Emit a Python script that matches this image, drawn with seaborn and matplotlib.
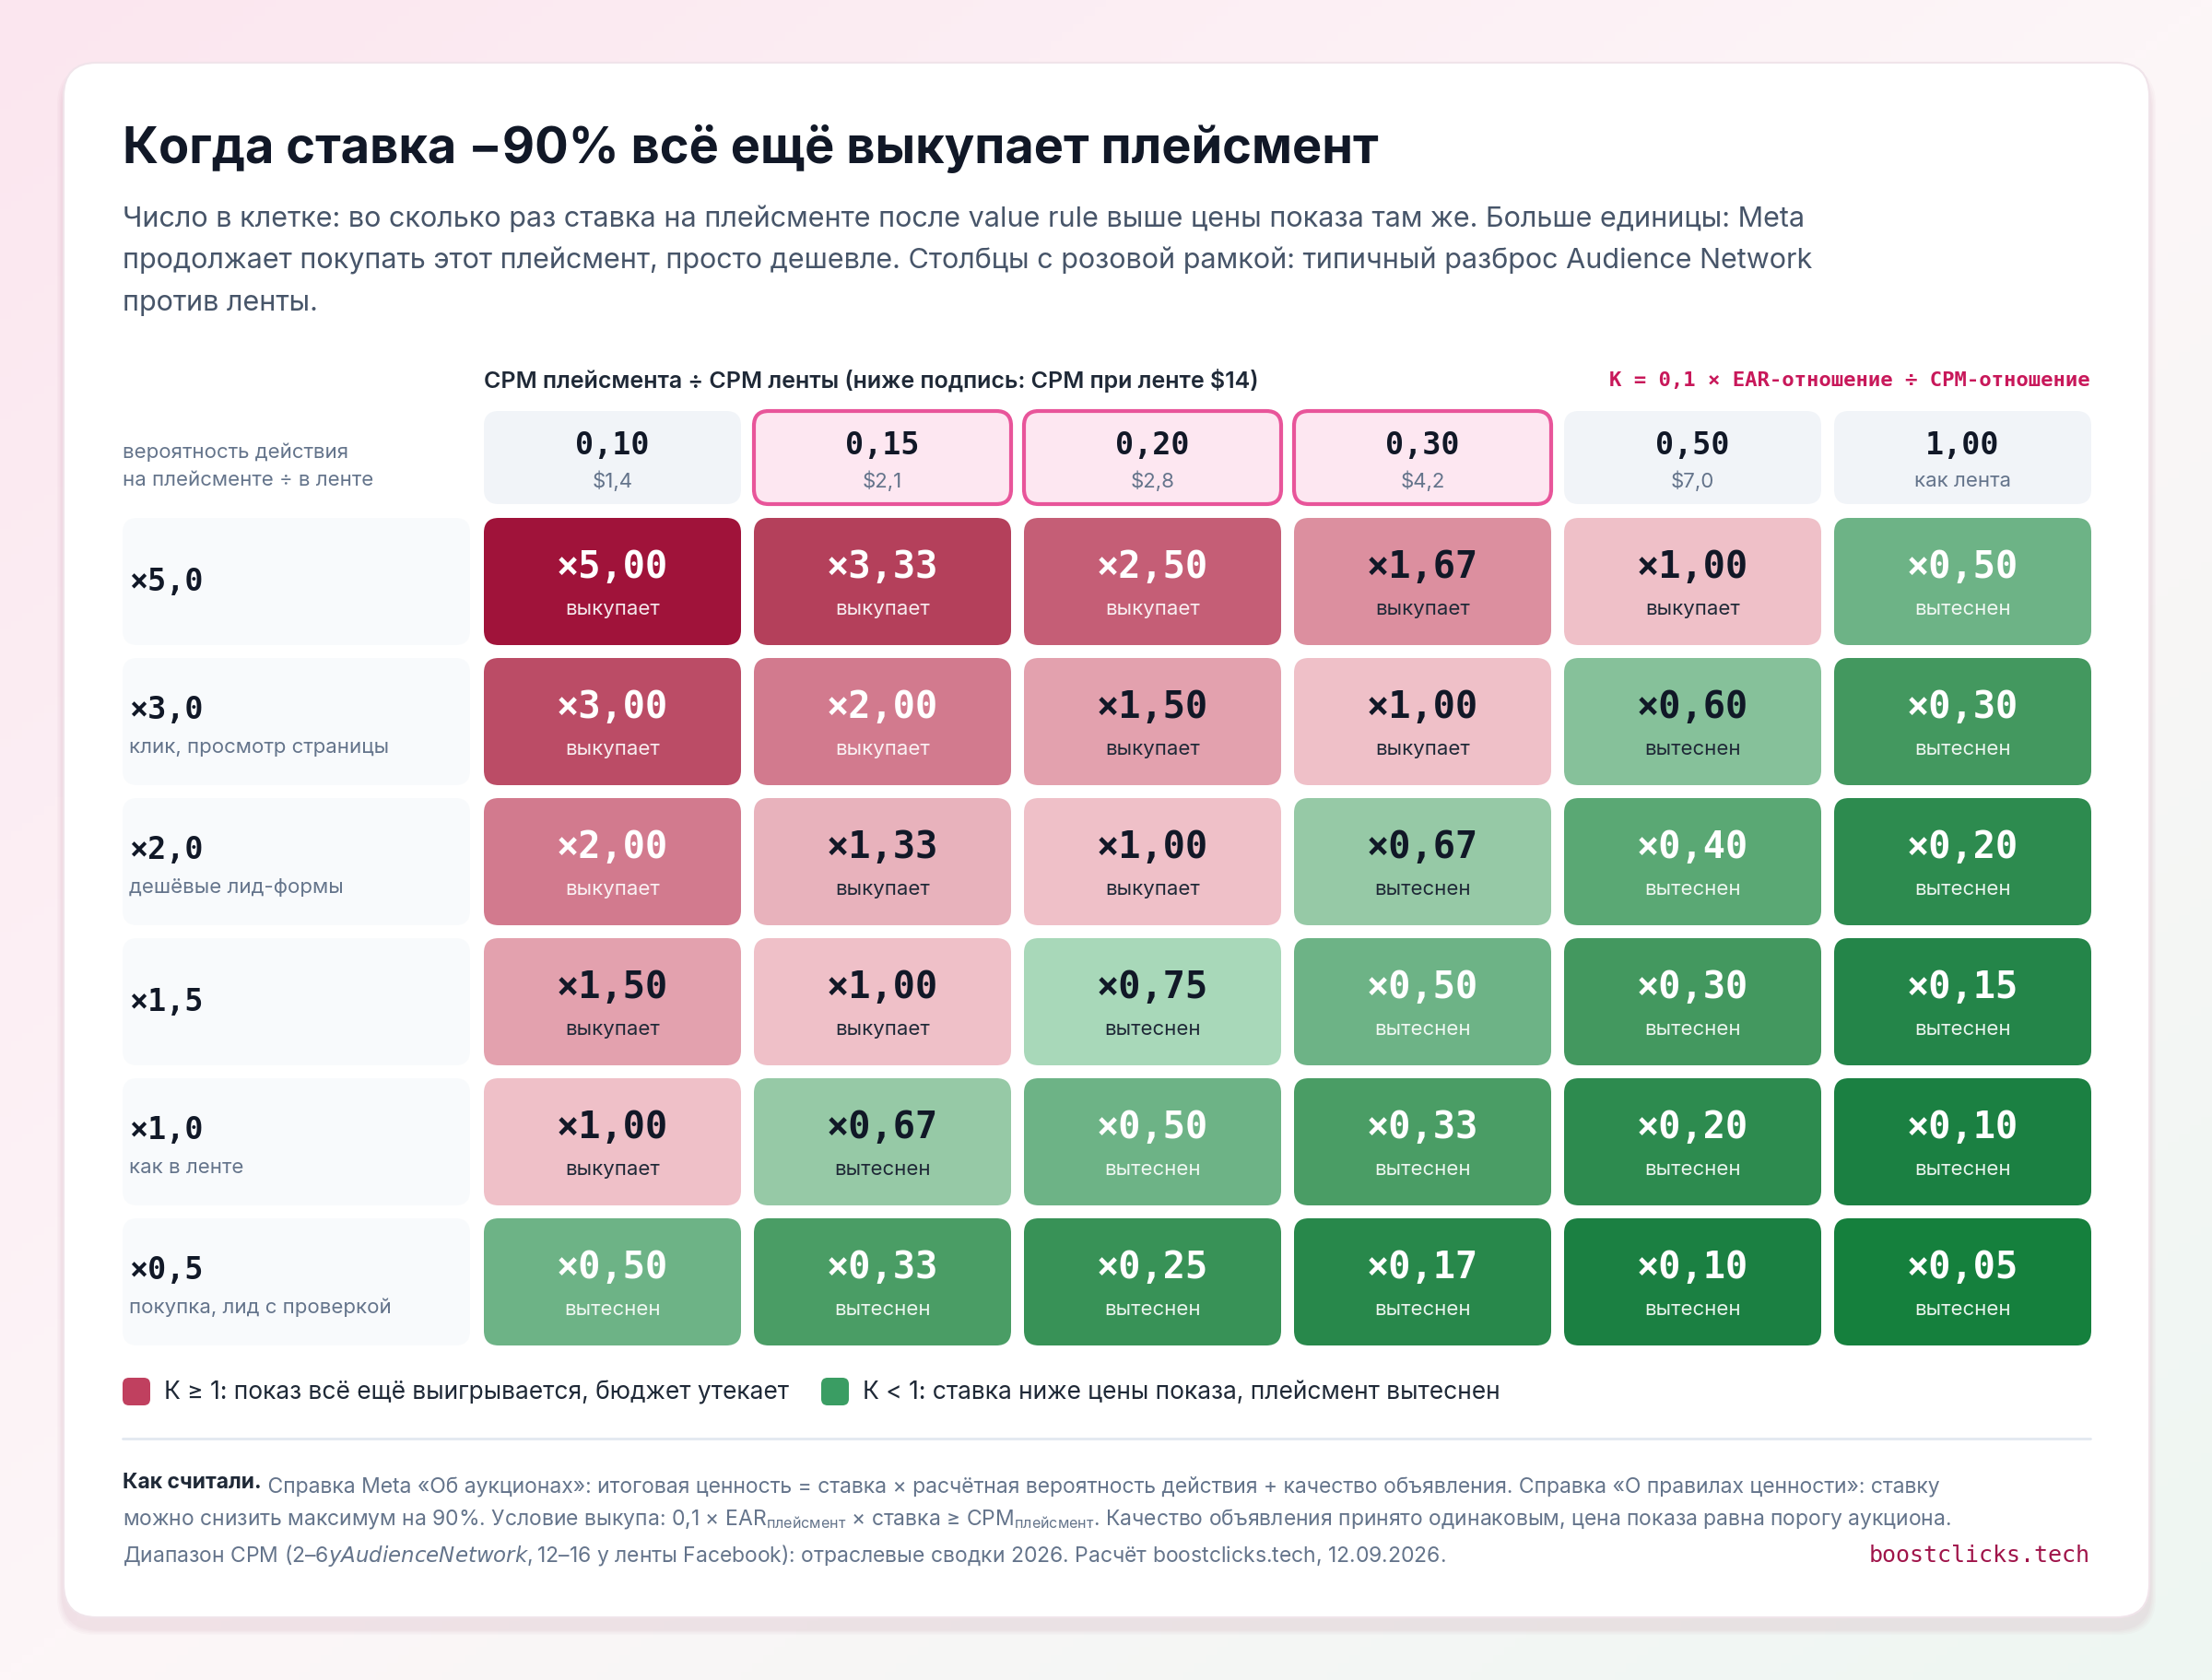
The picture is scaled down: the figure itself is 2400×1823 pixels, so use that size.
import numpy as np
import matplotlib
matplotlib.use("Agg")
import matplotlib.pyplot as plt
import seaborn as sns
from matplotlib.patches import FancyBboxPatch, Rectangle
from matplotlib.colors import to_rgb

sns.set_theme(style="white")
plt.rcParams['font.family'] = ['Inter', 'DejaVu Sans']
plt.rcParams['mathtext.fontset'] = 'custom'
plt.rcParams['mathtext.rm'] = 'Inter'

# ---- data ----
col_ratio = ["0,10", "0,15", "0,20", "0,30", "0,50", "1,00"]
col_cpm = ["$1,4", "$2,1", "$2,8", "$4,2", "$7,0", "как лента"]
col_highlight = [False, True, True, True, False, False]
row_labels = ["×5,0", "×3,0", "×2,0", "×1,5", "×1,0", "×0,5"]
row_subs = ["", "клик, просмотр страницы", "дешёвые лид-формы", "", "как в ленте", "покупка, лид с проверкой"]
K = [
    [5.00, 3.33, 2.50, 1.67, 1.00, 0.50],
    [3.00, 2.00, 1.50, 1.00, 0.60, 0.30],
    [2.00, 1.33, 1.00, 0.67, 0.40, 0.20],
    [1.50, 1.00, 0.75, 0.50, 0.30, 0.15],
    [1.00, 0.67, 0.50, 0.33, 0.20, 0.10],
    [0.50, 0.33, 0.25, 0.17, 0.10, 0.05],
]

# ---- colour scales ----
red_k = [1.0, 1.33, 1.5, 1.67, 2.0, 2.5, 3.33, 5.0]
red_c = ["#efc0c8", "#e8b2bc", "#e3a1ae", "#dc8f9f", "#d27a8e", "#c55e76", "#b4405b", "#a0133a"]
grn_k = [0.05, 0.1, 0.2, 0.3, 0.4, 0.5, 0.6, 0.67, 0.75]
grn_c = ["#15803d", "#1b8042", "#2d8b4f", "#43985f", "#5aa874", "#6db386", "#86c19a", "#96c9a6", "#a8d8b9"]

def interp_color(v, ks, cs):
    rgb = np.array([to_rgb(c) for c in cs])
    return tuple(np.interp(v, ks, rgb[:, i]) for i in range(3))

def cell_color(k):
    return interp_color(k, red_k, red_c) if k >= 1 else interp_color(k, grn_k, grn_c)

def dark_text(k):
    return (1 <= k <= 1.67) or (0.5 <= k < 1 and k != 0.5) or k == 0.5 and False

fig = plt.figure(figsize=(24, 18.24), dpi=100)
ax = fig.add_axes([0, 0, 1, 1])
ax.set_xlim(0, 2400)
ax.set_ylim(1824, 0)
ax.axis("off")

# background gradient
gx, gy = np.meshgrid(np.linspace(0, 1, 200), np.linspace(0, 1, 200))
c1 = np.array(to_rgb("#fbe6ef")); c2 = np.array(to_rgb("#fdf6f8")); c3 = np.array(to_rgb("#eef7f2"))
t = (gx + gy) / 2
img = np.where(t[..., None] < 0.5, c1 + (c2 - c1) * (t[..., None] / 0.5), c2 + (c3 - c2) * ((t[..., None] - 0.5) / 0.5))
ax.imshow(img, extent=(0, 2400, 1824, 0), aspect="auto", zorder=0)

# card with shadow
for i, a in enumerate([0.03, 0.03, 0.03, 0.04]):
    s = 14 - i * 3
    ax.add_patch(FancyBboxPatch((69 - s / 2, 69 + 6 - s / 2 + 6), 2263 + s, 1687 + s,
                                boxstyle="round,pad=0,rounding_size=40", fc="#b06080", ec="none", alpha=a, zorder=1))
ax.add_patch(FancyBboxPatch((69, 69), 2263, 1687, boxstyle="round,pad=0,rounding_size=36",
                            fc="white", ec="#f0e4ea", lw=1.5, zorder=2))

MONO = "DejaVu Sans Mono"
ax.text(133, 161, "Когда ставка −90% всё ещё выкупает плейсмент", fontsize=39, fontweight="bold",
        color="#111827", va="center", ha="left", zorder=5)
subtitle = ["Число в клетке: во сколько раз ставка на плейсменте после value rule выше цены показа там же. Больше единицы: Meta",
            "продолжает покупать этот плейсмент, просто дешевле. Столбцы с розовой рамкой: типичный разброс Audience Network",
            "против ленты."]
for i, s in enumerate(subtitle):
    ax.text(133, 237 + i * 46, s, fontsize=22, color="#475569", va="center", ha="left", zorder=5)

ax.text(525, 413, "CPM плейсмента ÷ CPM ленты (ниже подпись: CPM при ленте $14)", fontsize=18,
        fontweight="semibold", color="#1f2937", va="center", ha="left", zorder=5)
ax.text(2268, 413, "К = 0,1 × EAR-отношение ÷ CPM-отношение", fontsize=16, fontweight="bold",
        family=MONO, color="#c8185a", va="center", ha="right", zorder=5)

x0, pitch_x, cw = 525, 293, 279
hy, hh = 447, 101
y0, pitch_y, ch = 563, 152, 138

ax.text(133, 491, "вероятность действия", fontsize=16, color="#64748b", va="center", ha="left", zorder=5)
ax.text(133, 521, "на плейсменте ÷ в ленте", fontsize=16, color="#64748b", va="center", ha="left", zorder=5)

for j in range(len(col_ratio)):
    x = x0 + j * pitch_x
    if col_highlight[j]:
        ax.add_patch(FancyBboxPatch((x, hy), cw, hh, boxstyle="round,pad=0,rounding_size=16",
                                    fc="#fde7f1", ec="#e8559a", lw=3, zorder=3))
    else:
        ax.add_patch(FancyBboxPatch((x, hy), cw, hh, boxstyle="round,pad=0,rounding_size=16",
                                    fc="#f1f4f8", ec="none", zorder=3))
    ax.text(x + cw / 2, hy + 37, col_ratio[j], fontsize=24, family=MONO, fontweight="bold",
            color="#111827", ha="center", va="center", zorder=5)
    ax.text(x + cw / 2, hy + 75, col_cpm[j], fontsize=16, color="#64748b", ha="center", va="center", zorder=5)

for i in range(len(row_labels)):
    y = y0 + i * pitch_y
    ax.add_patch(FancyBboxPatch((133, y), 377, ch, boxstyle="round,pad=0,rounding_size=16",
                                fc="#f8fafc", ec="none", zorder=3))
    if row_subs[i]:
        ax.text(140, y + 56, row_labels[i], fontsize=24, family=MONO, fontweight="bold",
                color="#111827", ha="left", va="center", zorder=5)
        ax.text(140, y + 96, row_subs[i], fontsize=16, color="#64748b", ha="left", va="center", zorder=5)
    else:
        ax.text(140, y + ch / 2, row_labels[i], fontsize=24, family=MONO, fontweight="bold",
                color="#111827", ha="left", va="center", zorder=5)
    for j in range(len(col_ratio)):
        k = K[i][j]
        x = x0 + j * pitch_x
        ax.add_patch(FancyBboxPatch((x, y), cw, ch, boxstyle="round,pad=0,rounding_size=16",
                                    fc=cell_color(k), ec="none", zorder=3))
        dark = (1 <= k <= 1.67) or (0.6 <= k < 1)
        main_c = "#111827" if dark else "white"
        sub_c = "#1f2937" if dark else (1, 1, 1, 0.9)
        val = "×" + f"{k:.2f}".replace(".", ",")
        ax.text(x + cw / 2, y + 53, val, fontsize=29, family=MONO, fontweight="bold",
                color=main_c, ha="center", va="center", zorder=5)
        ax.text(x + cw / 2, y + 98, "выкупает" if k >= 1 else "вытеснен", fontsize=16,
                color=sub_c, ha="center", va="center", zorder=5)

# legend
ax.add_patch(FancyBboxPatch((133, 1496), 30, 30, boxstyle="round,pad=0,rounding_size=7",
                            fc="#c0405f", ec="none", zorder=4))
ax.text(178, 1511, "К ≥ 1: показ всё ещё выигрывается, бюджет утекает", fontsize=19, color="#1f2937",
        ha="left", va="center", zorder=5)
ax.add_patch(FancyBboxPatch((891, 1496), 30, 30, boxstyle="round,pad=0,rounding_size=7",
                            fc="#3a9d63", ec="none", zorder=4))
ax.text(936, 1511, "К < 1: ставка ниже цены показа, плейсмент вытеснен", fontsize=19, color="#1f2937",
        ha="left", va="center", zorder=5)

ax.plot([133, 2268], [1562, 1562], color="#e2e8f0", lw=2, zorder=4)

fs = 16.5
fc = "#64748b"
t1 = ax.text(133, 1615, "Как считали.", fontsize=fs, fontweight="bold", color="#1f2937", ha="left", va="baseline", zorder=5)
ax.annotate(" Справка Meta «Об аукционах»: итоговая ценность = ставка × расчётная вероятность действия + качество объявления. Справка «О правилах ценности»: ставку",
            xy=(1, 0), xycoords=t1, fontsize=fs, color=fc, ha="left", va="baseline", zorder=5)
ax.text(133, 1655, r"можно снизить максимум на 90%. Условие выкупа: 0,1 × EAR$_{\mathregular{плейсмент}}$ × ставка ≥ CPM$_{\mathregular{плейсмент}}$. Качество объявления принято одинаковым, цена показа равна порогу аукциона.",
        fontsize=fs, color=fc, ha="left", va="baseline", zorder=5)
ax.text(133, 1695, "Диапазон CPM ($2–6 у Audience Network, $12–16 у ленты Facebook): отраслевые сводки 2026. Расчёт boostclicks.tech, 12.09.2026.",
        fontsize=fs, color=fc, ha="left", va="baseline", zorder=5)
ax.text(2268, 1695, "boostclicks.tech", fontsize=18, family=MONO, color="#a0144a", ha="right", va="baseline", zorder=5)

fig.savefig("out.png", dpi=100)
